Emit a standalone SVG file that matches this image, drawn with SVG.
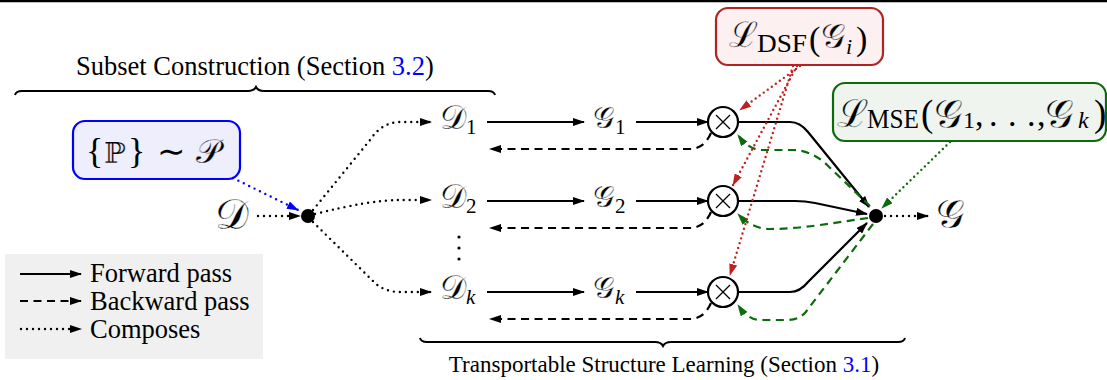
<svg xmlns="http://www.w3.org/2000/svg" width="1107" height="380" viewBox="0 0 1107 380">
<defs>
<style>
.t{font-family:"Liberation Serif","Times New Roman",serif;font-size:26.5px;fill:#000}
.ts{font-family:"Liberation Serif","Times New Roman",serif;font-size:23px;fill:#000}
.m{font-family:"DejaVu Serif","Noto Sans",serif;fill:#000;stroke:#fff;stroke-width:0.3}
.mb .m{stroke:#eeeefd}
.mr .m{stroke:#fdf0f0}
.mg .m{stroke:#eff5ee}
.r{font-family:"Liberation Serif",serif;fill:#000}
.blue{fill:#0000ff}
.solid{fill:none;stroke:#000;stroke-width:2.2}
.dash{fill:none;stroke:#000;stroke-width:2.2;stroke-dasharray:8 5.5}
.dot{fill:none;stroke:#000;stroke-width:2.4;stroke-dasharray:0 6;stroke-linecap:round}
.gdash{fill:none;stroke:#0b6b0b;stroke-width:2.2;stroke-dasharray:8 5.5}
.gdot{fill:none;stroke:#0b6b0b;stroke-width:2.4;stroke-dasharray:0 5;stroke-linecap:round}
.rdot{fill:none;stroke:#c02020;stroke-width:2.4;stroke-dasharray:0 5;stroke-linecap:round}
.bdot{fill:none;stroke:#0000ff;stroke-width:2.4;stroke-dasharray:0 6;stroke-linecap:round}
.brace{fill:none;stroke:#000;stroke-width:2}
.otimes circle{fill:#fff;stroke:#000;stroke-width:2.2}
.otimes line{stroke:#000;stroke-width:1.2}
</style>
<marker id="ak" viewBox="0 0 12 8" refX="11" refY="4" markerWidth="12" markerHeight="8" markerUnits="userSpaceOnUse" orient="auto"><path d="M0,0 L12,4 L0,8 z" fill="#000"/></marker>
<marker id="ag" viewBox="0 0 12 8" refX="11" refY="4" markerWidth="12" markerHeight="8" markerUnits="userSpaceOnUse" orient="auto"><path d="M0,0 L12,4 L0,8 z" fill="#0b6b0b"/></marker>
<marker id="ar" viewBox="0 0 12 8" refX="11" refY="4" markerWidth="12" markerHeight="8" markerUnits="userSpaceOnUse" orient="auto"><path d="M0,0 L12,4 L0,8 z" fill="#c02020"/></marker>
<marker id="ab" viewBox="0 0 12 8" refX="11" refY="4" markerWidth="12" markerHeight="8" markerUnits="userSpaceOnUse" orient="auto"><path d="M0,0 L12,4 L0,8 z" fill="#0000ff"/></marker>
</defs>
<rect width="1107" height="380" fill="#fff"/>
<line x1="0" y1="1" x2="1107" y2="1" stroke="#000" stroke-width="2.4"/>

<g id="subset-brace">
<path class="brace" d="M15,95 Q16,91 22,91 L248,91 Q254,91 256,87 Q258,91 264,91 L488,91 Q494,91 495,95"/>
<text class="t" x="76" y="75">Subset Construction (Section <tspan class="blue">3.2</tspan>)</text>
</g>

<g id="tsl-brace">
<path class="brace" d="M420,338 Q421,342 427,342 L655,342 Q661,342 663,346 Q665,342 671,342 L898,342 Q904,342 905,338"/>
<text class="ts" x="664" y="372" text-anchor="middle">Transportable Structure Learning (Section <tspan class="blue">3.1</tspan>)</text>
</g>

<g id="legend">
<rect x="5" y="254" width="258" height="105" fill="#f0f0f0"/>
<line class="solid" x1="20" y1="274" x2="81" y2="274" marker-end="url(#ak)"/>
<line class="dash" x1="20" y1="301" x2="81" y2="301" stroke-dasharray="6 4.5" marker-end="url(#ak)"/>
<line class="dot" x1="21" y1="329" x2="81" y2="329" stroke-dasharray="0 5" marker-end="url(#ak)"/>
<text class="t" x="90" y="282">Forward pass</text>
<text class="t" x="90" y="310">Backward pass</text>
<text class="t" x="90" y="338">Composes</text>
</g>

<g id="prior" class="mb">
<rect x="73" y="121" width="167" height="58" rx="12" fill="#eeeefd" stroke="#0000ff" stroke-width="2.2"/>
<text class="r" x="86" y="163" font-size="36">{</text>
<text class="m" x="104" y="163" font-size="29">ℙ</text>
<text class="r" x="128" y="163" font-size="36">}</text>
<text class="r" x="157" y="163" font-size="34">∼</text>
<text class="m" x="196" y="163" font-size="34">𝒫</text>
</g>

<g id="dsf-loss" class="mr">
<rect x="716" y="8" width="167" height="57" rx="12" fill="#fdf0f0" stroke="#b22222" stroke-width="2.2"/>
<text class="m" x="729" y="47" font-size="35">ℒ</text>
<text class="r" x="757" y="52" font-size="25" textLength="50" lengthAdjust="spacingAndGlyphs">DSF</text>
<text class="r" x="809" y="50" font-size="34">(</text>
<text class="m" x="821" y="48" font-size="34">𝒢</text>
<text class="r" x="846" y="54" font-size="22" font-style="italic">i</text>
<text class="r" x="856" y="50" font-size="34">)</text>
</g>

<g id="mse-loss" class="mg">
<rect x="833" y="83" width="273" height="58" rx="12" fill="#eff5ee" stroke="#0b6b0b" stroke-width="2.2"/>
<text class="m" x="837" y="127" font-size="38">ℒ</text>
<text class="r" x="867" y="128" font-size="27" textLength="52" lengthAdjust="spacingAndGlyphs">MSE</text>
<text class="r" x="921" y="126" font-size="37">(</text>
<text class="m" x="934" y="128" font-size="40">𝒢</text>
<text class="r" x="963" y="128" font-size="24">1</text>
<text class="r" x="975" y="126" font-size="34">,</text>
<text class="r" x="989" y="126" font-size="34">.</text>
<text class="r" x="1008" y="126" font-size="34">.</text>
<text class="r" x="1027" y="126" font-size="34">.</text>
<text class="r" x="1037" y="126" font-size="34">,</text>
<text class="m" x="1045" y="128" font-size="40">𝒢</text>
<text class="r" x="1078" y="128" font-size="24" font-style="italic">k</text>
<text class="r" x="1094" y="126" font-size="37">)</text>
</g>

<g id="D"><text class="m" x="232" y="229" text-anchor="middle" font-size="42">𝒟</text></g>
<g id="split"><circle cx="308" cy="216" r="7" fill="#000"/></g>
<g id="merge"><circle cx="876" cy="216" r="7" fill="#000"/></g>
<g id="G"><text class="m" x="950" y="228" text-anchor="middle" font-size="40">𝒢</text></g>

<g id="D1"><text class="m" x="440" y="129" font-size="33">𝒟</text><text class="r" x="466" y="134" font-size="21">1</text></g>
<g id="D2"><text class="m" x="440" y="208" font-size="33">𝒟</text><text class="r" x="466" y="213" font-size="21">2</text></g>
<g id="Dk"><text class="m" x="440" y="299" font-size="33">𝒟</text><text class="r" x="466" y="304" font-size="21" font-style="italic">k</text></g>
<g id="vdots"><circle cx="459" cy="237" r="1.6"/><circle cx="459" cy="248" r="1.6"/><circle cx="459" cy="259" r="1.6"/></g>

<g id="G1"><text class="m" x="593" y="128" font-size="30">𝒢</text><text class="r" x="615" y="134" font-size="21">1</text></g>
<g id="G2"><text class="m" x="593" y="207" font-size="30">𝒢</text><text class="r" x="615" y="213" font-size="21">2</text></g>
<g id="Gk"><text class="m" x="593" y="298" font-size="30">𝒢</text><text class="r" x="615" y="304" font-size="21" font-style="italic">k</text></g>

<g id="connectors">
<line class="dot" x1="258" y1="216" x2="300" y2="216" marker-end="url(#ak)"/>
<path class="bdot" d="M233,178 L298,210" marker-end="url(#ab)"/>
<path class="dot" d="M313,210 L370,140 Q382,122 400,122 L431,122" marker-end="url(#ak)"/>
<path class="dot" d="M315,214 Q370,200 400,200 L431,200" marker-end="url(#ak)"/>
<path class="dot" d="M313,222 L375,283 Q385,292 400,292 L431,292" marker-end="url(#ak)"/>

<line class="solid" x1="487" y1="122" x2="584" y2="122" marker-end="url(#ak)"/>
<line class="solid" x1="487" y1="201" x2="584" y2="201" marker-end="url(#ak)"/>
<line class="solid" x1="487" y1="292" x2="584" y2="292" marker-end="url(#ak)"/>
<line class="solid" x1="636" y1="122" x2="708" y2="122" marker-end="url(#ak)"/>
<line class="solid" x1="636" y1="201" x2="708" y2="201" marker-end="url(#ak)"/>
<line class="solid" x1="636" y1="292" x2="708" y2="292" marker-end="url(#ak)"/>

<path class="dash" d="M711,133 Q704,149 690,149 L490,149" marker-end="url(#ak)"/>
<path class="dash" d="M711,212 Q704,228 690,228 L490,228" marker-end="url(#ak)"/>
<path class="dash" d="M711,303 Q704,319 690,319 L490,319" marker-end="url(#ak)"/>

<path class="solid" d="M738,122 L790,122 Q800,122 808,132 L869,207" marker-end="url(#ak)"/>
<path class="solid" d="M738,201 L795,201 Q805,201 815,203 L867,214" marker-end="url(#ak)"/>
<path class="solid" d="M738,292 L790,292 Q800,292 808,282 L867,223" marker-end="url(#ak)"/>

<path class="gdash" d="M870,206 L825,163 Q810,150 792,150 L760,150 Q748,149 738,135" marker-end="url(#ag)"/>
<path class="gdash" d="M868,218 L820,225 Q790,229 770,229 Q752,229 738,214" marker-end="url(#ag)"/>
<path class="gdash" d="M873,224 L808,309 Q801,320 788,320 L760,320 Q748,320 738,305" marker-end="url(#ag)"/>

<path class="rdot" d="M800,66 L740,110" marker-end="url(#ar)"/>
<path class="rdot" d="M797,66 L733,185" marker-end="url(#ar)"/>
<path class="rdot" d="M793,66 L730,275" marker-end="url(#ar)"/>

<path class="gdot" d="M950,142 L882,208" marker-end="url(#ag)"/>
<line class="dot" x1="885" y1="216" x2="928" y2="216" marker-end="url(#ak)"/>
</g>

<g id="otimes1" class="otimes"><circle cx="723" cy="122" r="15"/><line x1="716" y1="115" x2="730" y2="129"/><line x1="730" y1="115" x2="716" y2="129"/></g>
<g id="otimes2" class="otimes"><circle cx="723" cy="201" r="15"/><line x1="716" y1="194" x2="730" y2="208"/><line x1="730" y1="194" x2="716" y2="208"/></g>
<g id="otimesk" class="otimes"><circle cx="723" cy="292" r="15"/><line x1="716" y1="285" x2="730" y2="299"/><line x1="730" y1="285" x2="716" y2="299"/></g>
</svg>
